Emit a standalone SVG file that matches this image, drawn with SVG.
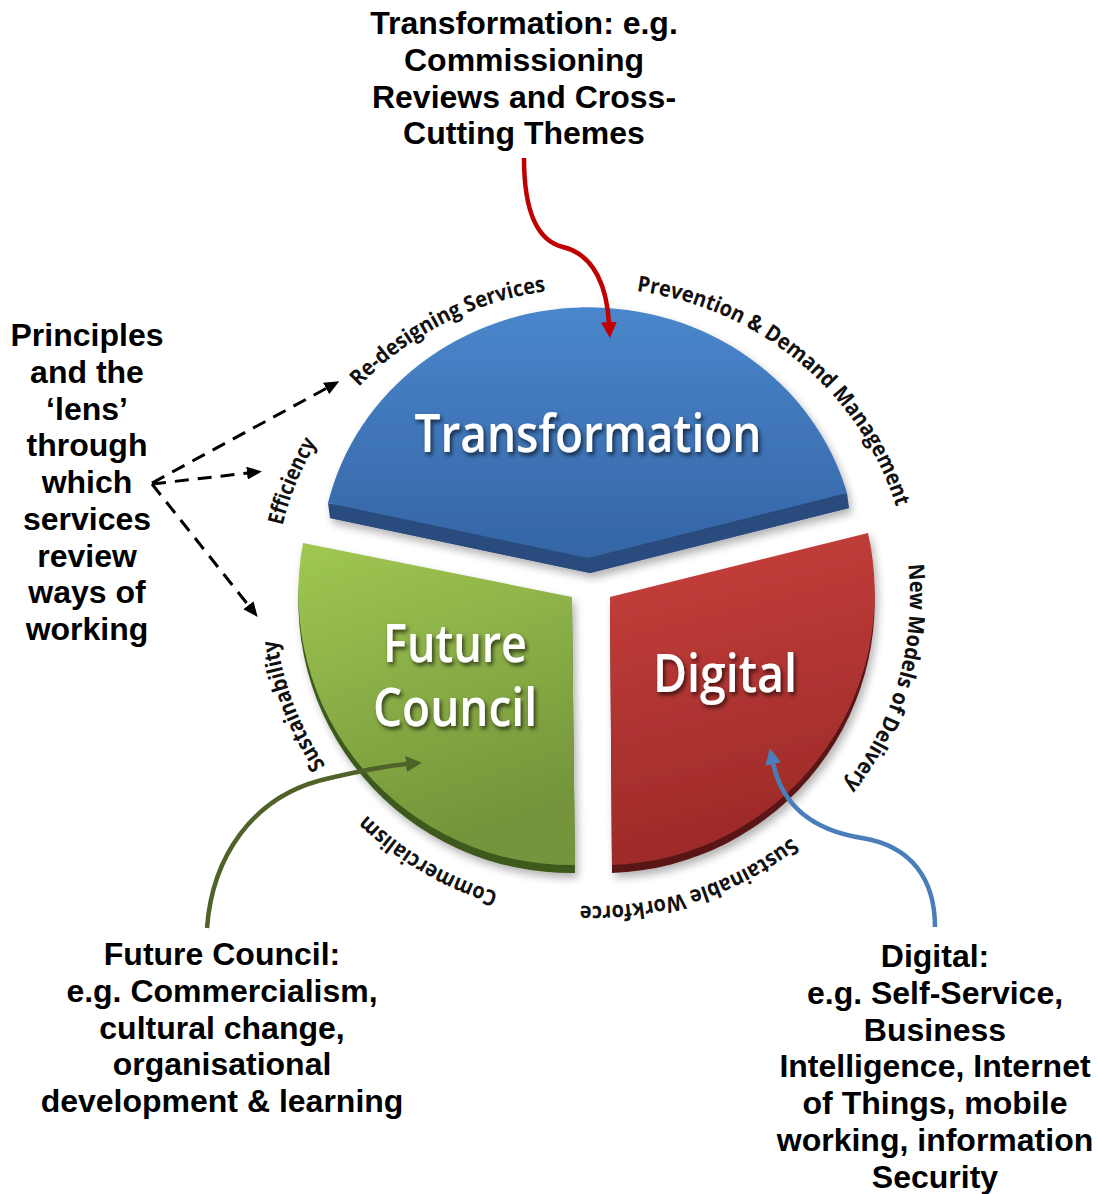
<svg xmlns="http://www.w3.org/2000/svg" width="1100" height="1194" viewBox="0 0 1100 1194">
<defs>
<style>
.lbl{font-family:"Liberation Sans",Arial,sans-serif;font-weight:bold;font-size:32px;fill:#000;text-anchor:middle}
.ring{font-family:"Open Sans","Noto Sans",sans-serif;font-weight:700;font-size:22px;fill:#111}
.big{font-family:"Open Sans","Noto Sans",sans-serif;font-weight:600;font-size:52px;fill:#fff;text-anchor:middle}
.dash{fill:none;stroke:#000;stroke-width:3;stroke-dasharray:14 9}
.curve{fill:none;stroke-width:4.5}
</style>
<linearGradient id="gBlue" x1="0" y1="0" x2="0" y2="1">
<stop offset="0" stop-color="#4a86cc"/><stop offset="1" stop-color="#3465a5"/>
</linearGradient>
<linearGradient id="gGreen" x1="0" y1="0" x2="0.3" y2="1">
<stop offset="0" stop-color="#a0c852"/><stop offset="1" stop-color="#74943a"/>
</linearGradient>
<linearGradient id="gRed" x1="0" y1="0" x2="0.2" y2="1">
<stop offset="0" stop-color="#c8403c"/><stop offset="1" stop-color="#9c2a28"/>
</linearGradient>
<filter id="shadow" x="-10%" y="-10%" width="125%" height="130%">
<feGaussianBlur in="SourceAlpha" stdDeviation="4"/>
<feOffset dx="3" dy="5" result="b"/>
<feComponentTransfer><feFuncA type="linear" slope="0.3"/></feComponentTransfer>
<feMerge><feMergeNode/><feMergeNode in="SourceGraphic"/></feMerge>
</filter>
<filter id="txtsh" x="-10%" y="-20%" width="120%" height="150%">
<feDropShadow dx="2" dy="3" stdDeviation="2" flood-color="#000" flood-opacity="0.65"/>
</filter>
<path id="ring" d="M 274,597 A 318 309 0 1 1 910,597 A 318 309 0 1 1 274,597" fill="none"/>
<marker id="ahK" markerUnits="userSpaceOnUse" markerWidth="15" markerHeight="13" refX="1" refY="6.5" orient="auto"><path d="M0,0 L15,6.5 L0,13 z" fill="#000"/></marker>
<marker id="ahR" markerUnits="userSpaceOnUse" markerWidth="16" markerHeight="16" refX="1" refY="8" orient="auto"><path d="M0,0 L16,8 L0,16 z" fill="#c00000"/></marker>
<marker id="ahG" markerUnits="userSpaceOnUse" markerWidth="16" markerHeight="16" refX="1" refY="8" orient="auto"><path d="M0,0 L16,8 L0,16 z" fill="#4f6228"/></marker>
<marker id="ahB" markerUnits="userSpaceOnUse" markerWidth="16" markerHeight="16" refX="1" refY="8" orient="auto"><path d="M0,0 L16,8 L0,16 z" fill="#4a7ebb"/></marker>
</defs>
<rect width="1100" height="1194" fill="#fff"/>

<g id="node-transformation" filter="url(#shadow)">
<path d="M 330,518 A 268 254 0 0 1 849,508 L 590,573 Z" fill="#2a4c7e"/>
<path d="M 328,503 L 588,558 L 847,493 L 849,508 L 590,573 L 330,518 Z" fill="#2a4c7e"/>
<path d="M 328,503 A 268 254 0 0 1 847,493 L 588,558 Z" fill="url(#gBlue)"/>
<text class="big" x="588" y="452" textLength="347" lengthAdjust="spacingAndGlyphs" filter="url(#txtsh)">Transformation</text>
</g>

<g id="node-future-council" filter="url(#shadow)">
<path d="M 572,605 L 303,551 A 272 272 0 0 0 575,873 Z" fill="#3e5a1e"/>
<path d="M 572,597 L 303,543 A 272 272 0 0 0 575,865 Z" fill="url(#gGreen)"/>
<text class="big" x="455" y="662" textLength="144" lengthAdjust="spacingAndGlyphs" filter="url(#txtsh)">Future</text>
<text class="big" x="455" y="726" textLength="164" lengthAdjust="spacingAndGlyphs" filter="url(#txtsh)">Council</text>
</g>

<g id="node-digital" filter="url(#shadow)">
<path d="M 610,605 L 868,541 A 272 272 0 0 1 612,873 Z" fill="#5a1818"/>
<path d="M 610,597 L 868,533 A 272 272 0 0 1 612,865 Z" fill="url(#gRed)"/>
<text class="big" x="725" y="692" textLength="144" lengthAdjust="spacingAndGlyphs" filter="url(#txtsh)">Digital</text>
</g>

<g id="ring-labels">
<text class="ring"><textPath href="#ring" startOffset="72" textLength="90" lengthAdjust="spacingAndGlyphs">Efficiency</textPath></text>
<text class="ring"><textPath href="#ring" startOffset="232" textLength="214" lengthAdjust="spacingAndGlyphs">Re-designing Services</textPath></text>
<text class="ring"><textPath href="#ring" startOffset="537" textLength="219" lengthAdjust="spacingAndGlyphs">Prevention &amp; Demand</textPath></text>
<text class="ring"><textPath href="#ring" startOffset="762" textLength="131" lengthAdjust="spacingAndGlyphs">Management</textPath></text>
<text class="ring"><textPath href="#ring" startOffset="952" textLength="236" lengthAdjust="spacingAndGlyphs">New Models of Delivery</textPath></text>
<text class="ring"><textPath href="#ring" startOffset="1262" textLength="227" lengthAdjust="spacingAndGlyphs">Sustainable Workforce</textPath></text>
<text class="ring"><textPath href="#ring" startOffset="1572" textLength="154" lengthAdjust="spacingAndGlyphs">Commercialism</textPath></text>
<text class="ring"><textPath href="#ring" startOffset="1790" textLength="136" lengthAdjust="spacingAndGlyphs">Sustainability</textPath></text>
</g>

<g id="label-transformation" class="lbl">
<text x="524" y="34">Transformation: e.g.</text>
<text x="524" y="71">Commissioning</text>
<text x="524" y="108">Reviews and Cross-</text>
<text x="524" y="144">Cutting Themes</text>
</g>

<g id="label-principles" class="lbl">
<text x="87" y="346">Principles</text>
<text x="87" y="383">and the</text>
<text x="87" y="420">‘lens’</text>
<text x="87" y="456">through</text>
<text x="87" y="493">which</text>
<text x="87" y="530">services</text>
<text x="87" y="567">review</text>
<text x="87" y="603">ways of</text>
<text x="87" y="640">working</text>
</g>

<g id="label-future-council" class="lbl">
<text x="222" y="965">Future Council:</text>
<text x="222" y="1002">e.g. Commercialism,</text>
<text x="222" y="1039">cultural change,</text>
<text x="222" y="1075">organisational</text>
<text x="222" y="1112">development &amp; learning</text>
</g>

<g id="label-digital" class="lbl">
<text x="935" y="967">Digital:</text>
<text x="935" y="1004">e.g. Self-Service,</text>
<text x="935" y="1041">Business</text>
<text x="935" y="1077">Intelligence, Internet</text>
<text x="935" y="1114">of Things, mobile</text>
<text x="935" y="1151">working, information</text>
<text x="935" y="1188">Security</text>
</g>

<g id="connectors">
<path class="curve" stroke="#c00000" d="M 524,158 C 524,205 534,240 563,247 C 596,255 607,290 609,323" marker-end="url(#ahR)"/>
<path class="curve" stroke="#4f6228" d="M 207,928 C 212,860 250,795 330,778 C 360,771 385,766 407,764" marker-end="url(#ahG)"/>
<path class="curve" stroke="#4a7ebb" d="M 935,927 C 935,880 912,846 862,838 C 812,830 782,805 773,763" marker-end="url(#ahB)"/>
<path class="dash" d="M 152,483 L 327,388" marker-end="url(#ahK)"/>
<path class="dash" d="M 152,484 L 248,473" marker-end="url(#ahK)"/>
<path class="dash" d="M 152,484 L 249,606" marker-end="url(#ahK)"/>
</g>
</svg>
